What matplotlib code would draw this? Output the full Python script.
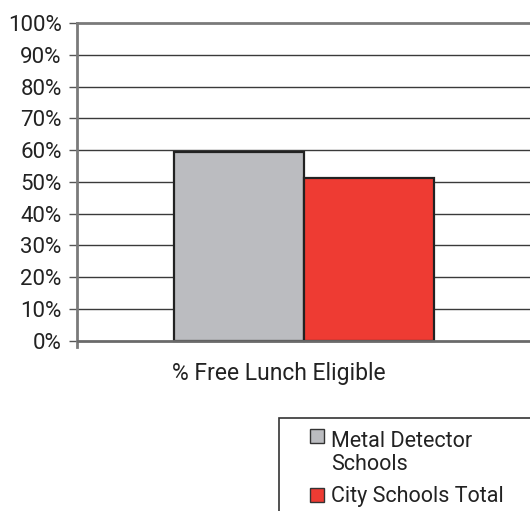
import matplotlib
matplotlib.use("Agg")
import matplotlib.pyplot as plt
from matplotlib.patches import Rectangle

plt.rcParams["font.family"] = ["Roboto", "DejaVu Sans"]

series = ["Metal Detector\nSchools", "City Schools Total"]
values = [59.5, 51.3]
colors = ["#BBBCC0", "#EE3B33"]
category = "% Free Lunch Eligible"
yticks = list(range(0, 101, 10))
ytick_labels = [f"{t}%" for t in yticks]

W, H = 530, 511
fig = plt.figure(figsize=(W / 100, H / 100), dpi=100)
ax = fig.add_axes([77 / W, 1 - 347 / H, 1 - 77 / W, (347 - 23) / H])

bar_w = 130 / 453 * 2
offsets = [-bar_w / 2, bar_w / 2]
for off, v, c, name in zip(offsets, values, colors, series):
    ax.bar(off, v, width=bar_w, color=c, edgecolor="#222222", linewidth=1.6,
           label=name, zorder=3)

for t in yticks[1:-1]:
    ax.axhline(t, color="#3a3a3a", lw=1.0, zorder=1)
ax.axhline(0, color="#6a6a6a", lw=2.0, zorder=4)

ax.set_xlim(-1, 1)
ax.set_ylim(-2, 100)
ax.set_yticks(yticks)
ax.set_yticklabels(ytick_labels, fontsize=16, color="#222222")
ax.set_xticks([])
ax.tick_params(axis="y", length=6, width=1.0, color="#555555", pad=5)
for s in ["right", "bottom"]:
    ax.spines[s].set_visible(False)
ax.spines["left"].set_color("#7a7a7a")
ax.spines["left"].set_linewidth(2.0)
ax.spines["top"].set_color("#7a7a7a")
ax.spines["top"].set_linewidth(2.0)

fig.text(279 / W, 1 - 373 / H, category, ha="center", va="center",
         fontsize=16.5, color="#222222")

# legend box, runs off the page like the source
fig.patches.append(Rectangle((279 / W, -0.1), 0.6, 0.1 + (511 - 418) / H,
                             transform=fig.transFigure, fill=False,
                             edgecolor="#333333", lw=1.2))
# legend entries: swatch sits on the first line, text anchored on last line
swatch_base = [443, 502]
text_base = [470, 502]
for sb, tb, c, name in zip(swatch_base, text_base, colors, series):
    fig.patches.append(Rectangle((310 / W, 1 - sb / H), 14 / W, 14 / H,
                                 transform=fig.transFigure, facecolor=c,
                                 edgecolor="#333333", lw=1.0))
    fig.text(331 / W, 1 - tb / H, name, ha="left", va="baseline",
             fontsize=15.5, color="#222222", linespacing=1.15)

fig.savefig("out.png", dpi=100)
